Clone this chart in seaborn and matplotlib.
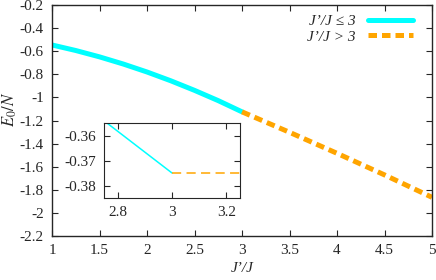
import matplotlib
matplotlib.use("Agg")
import matplotlib.pyplot as plt
from matplotlib.ticker import FuncFormatter, MultipleLocator
import pandas as pd
import seaborn as sns

# main curve, J'/J <= 3
jj_low = [1.0, 1.25, 1.5, 1.75, 2.0, 2.25, 2.5, 2.75, 3.0]
e_low = [-0.546, -0.594, -0.649, -0.711, -0.780, -0.856, -0.939, -1.028, -1.125]
# main curve, J'/J > 3
jj_high = [3.0, 3.5, 4.0, 4.5, 5.0]
e_high = [-1.125, -1.302, -1.484, -1.671, -1.865]

# inset (zoom around J'/J = 3)
ins_jj_low = [2.75, 3.0]
ins_e_low = [-0.3541, -0.375]
ins_jj_high = [3.0, 3.25]
ins_e_high = [-0.375, -0.375]

labels = ["J\u2019/J \u2264 3", "J\u2019/J > 3"]
cyan = "#00ffff"
orange = "#ffa500"

sns.set_style("ticks")
plt.rcParams["font.family"] = ["Liberation Serif", "DejaVu Serif"]
plt.rcParams["axes.unicode_minus"] = False
plt.rcParams["mathtext.fontset"] = "stix"

fmt = FuncFormatter(lambda v, p: f"{v:g}")

fig = plt.figure(figsize=(4.36, 2.8), dpi=100)
ax = fig.add_axes([52 / 436, 44 / 280, 380 / 436, 231 / 280])

low = pd.DataFrame({"x": jj_low, "y": e_low})
high = pd.DataFrame({"x": jj_high, "y": e_high})
sns.lineplot(data=low, x="x", y="y", ax=ax, color=cyan, lw=3.6, label=labels[0])
sns.lineplot(data=high, x="x", y="y", ax=ax, color=orange, lw=3.6,
             label=labels[1])
ax.lines[1].set_dashes([1.7, 1.0])

ax.set_xlim(1, 5)
ax.set_ylim(-2.2, -0.2)
ax.xaxis.set_major_locator(MultipleLocator(0.5))
ax.yaxis.set_major_locator(MultipleLocator(0.2))
ax.xaxis.set_major_formatter(fmt)
ax.yaxis.set_major_formatter(fmt)
ax.tick_params(direction="in", top=True, right=True, length=4, width=0.8,
               labelsize=11, pad=6)
for s in ax.spines.values():
    s.set_linewidth(1.0)
ax.set_xlabel("J\u2019/J", style="italic", fontsize=11, labelpad=3)
ax.set_ylabel(r"$E_0/N$", fontsize=12, labelpad=0)
ax.yaxis.set_label_coords(-0.088, 0.55)

leg = ax.legend(loc="upper right", frameon=False, markerfirst=False,
                prop={"style": "italic", "size": 11}, handlelength=3.0,
                labelspacing=0.15, borderaxespad=0.2, handletextpad=0.8,
                bbox_to_anchor=(0.975, 1.0))

# inset
ins = fig.add_axes([104 / 436, 82 / 280, 136 / 436, 75 / 280])
ins_low = pd.DataFrame({"x": ins_jj_low, "y": ins_e_low})
ins_high = pd.DataFrame({"x": ins_jj_high, "y": ins_e_high})
sns.lineplot(data=ins_low, x="x", y="y", ax=ins, color=cyan, lw=1.1)
sns.lineplot(data=ins_high, x="x", y="y", ax=ins, color=orange, lw=1.1)
ins.lines[1].set_dashes([6, 3.5])
ins.set_xlim(2.75, 3.25)
ins.set_ylim(-0.385, -0.355)
ins.set_xticks([2.8, 3.0, 3.2])
ins.set_yticks([-0.36, -0.37, -0.38])
ins.xaxis.set_major_formatter(fmt)
ins.yaxis.set_major_formatter(fmt)
ins.tick_params(direction="in", top=True, right=True, length=4, width=0.8,
                labelsize=11, pad=6)
ins.set_xlabel("")
ins.set_ylabel("")

fig.savefig("out.png", dpi=100)
